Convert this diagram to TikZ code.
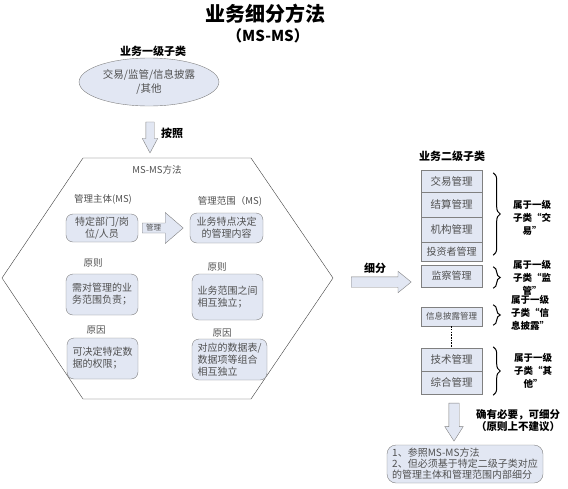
\documentclass[tikz,border=0pt]{standalone}
\usepackage{fontspec}
\setmainfont{Noto Sans CJK SC}
\usetikzlibrary{shapes,calc,decorations.pathreplacing}
\definecolor{boxfill}{HTML}{E2E7F3}
\definecolor{boxline}{HTML}{808080}
\definecolor{txtgray}{HTML}{505050}

\begin{document}
\begin{tikzpicture}[x=1pt,y=-1pt,
  rbox/.style={draw=boxline,fill=boxfill,rounded corners=7pt,text=txtgray,inner sep=2pt,font=\fontsize{10}{12}\selectfont},
  sbox/.style={draw=boxline,fill=boxfill,text=txtgray,minimum width=61pt,inner sep=0pt},
  glab/.style={text=txtgray,font=\fontsize{9.5}{12}\selectfont},
  blab/.style={font=\fontsize{9.5}{13}\selectfont\bfseries,align=center},
  harrow/.style={single arrow,draw=boxline,fill=boxfill},
  gbrace/.style={decorate,decoration={brace,amplitude=7pt},line width=1pt}]
\useasboundingbox (0,0) rectangle (568,488);

\node[font=\fontsize{20}{22}\selectfont\bfseries] (title) at (265,14) {业务细分方法};
\node[font=\fontsize{15}{18}\selectfont\bfseries] (subtitle) at (268,36) {（MS-MS）};

\node[blab,font=\fontsize{11}{12}\selectfont\bfseries] (lvl1) at (153,51) {业务一级子类};
\node[ellipse,draw=boxline,fill=boxfill,minimum width=137pt,minimum height=48pt,
  text=txtgray,align=center,font=\fontsize{10.5}{14}\selectfont] (cat1) at (149,82) {交易/监管/信息披露\\/其他};
\node[harrow,shape border rotate=270,minimum height=31pt,minimum width=15pt,inner sep=4pt,
  single arrow head extend=3.5pt,single arrow tip angle=56] (down1) at (150,133.5) {};
\node[blab,font=\fontsize{11}{12}\selectfont\bfseries] (by) at (172,133) {按照};

\draw[black!75] (83,158) -- (251,158) -- (333,278) -- (251,399) -- (83,399) -- (2,278) -- cycle;
\node[glab] (msms) at (157,170) {MS-MS方法};
\node[glab] (subj) at (103,199) {管理主体(MS)};
\node[glab] (scope) at (230,201) {管理范围（MS)};
\node[glab] (rule1) at (93,263) {原则};
\node[glab] (why1) at (96,330) {原因};
\node[glab] (rule2) at (217,267) {原则};
\node[glab] (why2) at (222,333) {原因};

\node[rbox,minimum width=72pt,minimum height=28pt,align=center] (dept) at (102,228) {特定部门/岗\\位/人员};
\node[rbox,minimum width=72pt,minimum height=41pt,align=left] (duty) at (102,294.5) {需对管理的业\\务范围负责；};
\node[rbox,minimum width=71pt,minimum height=41pt,align=left] (perm) at (102.5,358.5) {可决定特定数\\据的权限；};
\node[rbox,minimum width=73pt,minimum height=30pt,align=center] (cont) at (226.5,228) {业务特点决定\\的管理内容};
\node[rbox,minimum width=71pt,minimum height=46pt,align=left] (indep) at (227.5,297) {业务范围之间\\相互独立；};
\node[rbox,minimum width=75pt,minimum height=41pt,align=left] (table) at (229.5,359.5) {对应的数据表/\\数据项等组合\\相互独立};

\draw[draw=boxline,fill=boxfill] ($(dept.east)+(4,-5)$) -- ++(23,0) -- ++(0,-10.5) -- ++(18,15.5)
  -- ++(-18,15.5) -- ++(0,-10.5) -- ++(-23,0) -- cycle;
\node[text=txtgray,font=\fontsize{7.5}{8}\selectfont,inner sep=0pt] (manage) at ($(dept.east)+(15.5,0)$) {管理};

\node[harrow,minimum height=60pt,minimum width=21pt,inner sep=5pt,single arrow head extend=5.5pt,
  single arrow tip angle=78] (split) at (378,282) {};
\node[blab,font=\fontsize{11}{12}\selectfont\bfseries] (splitlab) at (375,268) {细分};

\node[blab,font=\fontsize{11}{12}\selectfont\bfseries] (lvl2) at (452,156) {业务二级子类};
\foreach \t/\yc/\h/\fs [count=\i] in {交易管理/181/22/10.5, 结算管理/204.5/25/10.5,
  机构管理/229.5/25/10.5, 投资者管理/251.5/19/10, 监察管理/276/22/10,
  信息披露管理/316.5/19/8.5, 技术管理/359.5/23/10.5, 综合管理/382.5/23/10.5}
  \node[sbox,minimum height=\h pt,font=\fontsize{\fs}{12}\selectfont] (s\i) at (451.5,\yc) {\t};
\draw[line width=1.4pt,dash pattern=on 1.5pt off 1.2pt] (s6.south) -- (s7.north);

\draw[gbrace] ($(s1.north east)+(11,3)$) -- ($(s4.south east)+(11,-6)$);
\draw[gbrace] ($(s5.north east)+(11,2)$) -- ($(s5.south east)+(11,1)$);
\draw[gbrace] ($(s6.north east)+(11,-2)$) -- ($(s6.south east)+(11,-1)$);
\draw[gbrace] ($(s7.north east)+(11,-1)$) -- ($(s8.south east)+(11,1)$);
\node[blab] (g1) at (532,218) {属于一级\\子类“交\\易”};
\node[blab] (g2) at (532,278) {属于一级\\子类“监\\管”};
\node[blab] (g3) at (530,313) {属于一级\\子类“信\\息披露”};
\node[blab] (g4) at (533,371) {属于一级\\子类“其\\他”};

\node[harrow,shape border rotate=270,minimum height=38pt,minimum width=18pt,inner sep=5pt,
  single arrow head extend=4pt,single arrow tip angle=65] (down2) at (454,418) {};
\node[blab,font=\fontsize{10.5}{12}\selectfont\bfseries] (need) at (518,421) {确有必要，可细分\\（原则上不建议）};

\node[rbox,minimum width=156pt,minimum height=38pt,align=left,rounded corners=9pt,
  font=\fontsize{10}{11}\selectfont] (note) at (465,464) {1、参照MS-MS方法\\2、但必须基于特定二级子类对应\\的管理主体和管理范围内部细分};
\end{tikzpicture}
\end{document}
